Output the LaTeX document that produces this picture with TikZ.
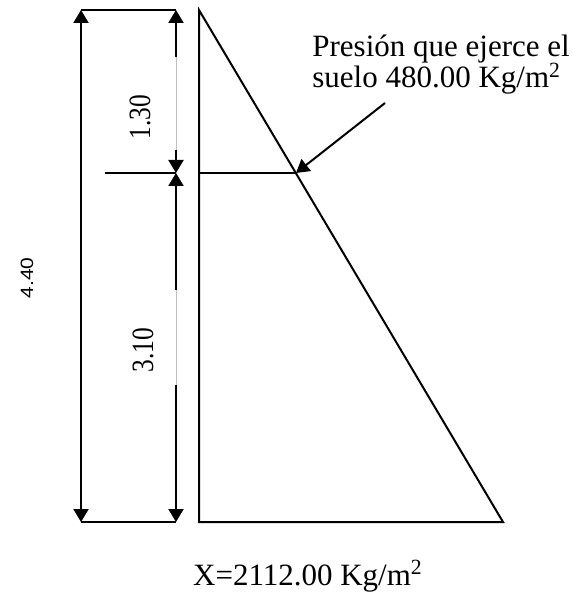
\documentclass[tikz,border=0pt]{standalone}
\usepackage{fontspec}
\setmainfont{Liberation Serif}
\newfontfamily\arialfont{Liberation Sans}
\usetikzlibrary{arrows.meta}
\tikzset{
  linea/.style={line width=1pt},
  cota/.style={line width=1pt,-{Triangle[width=7.5pt,length=6.5pt]}},
  cotados/.style={line width=1pt,{Triangle[width=7.5pt,length=6.5pt]}-{Triangle[width=7.5pt,length=6.5pt]}},
  hueco/.style={line width=0.4pt,black!25},
  texto/.style={inner sep=0pt,font=\fontsize{15.5}{15.5}\selectfont},
}
\begin{document}
\begin{tikzpicture}[x=0.5pt,y=-0.5pt]
  \useasboundingbox (0,0) rectangle (571,592);
  % triangulo de presiones del suelo
  \coordinate (A) at (199,10);
  \coordinate (B) at (199,522);
  \coordinate (C) at (503,522);
  \coordinate (M) at (199,173);
  \coordinate (P) at (296,173);
  \draw[linea,line join=miter] (A) -- (B) -- (C) -- cycle;
  \draw[linea] (M) -- (P);
  % cotas
  \foreach \n/\y in {a/10,m/173,b/522}{
    \coordinate (L\n) at (81,\y);
    \coordinate (R\n) at (176,\y);
  }
  \coordinate (Tm) at (105,173);
  \coordinate (G1) at (176,57);
  \coordinate (G2) at (176,150);
  \coordinate (G3) at (176,290);
  \coordinate (G4) at (176,385);
  \draw[cotados] (La) -- (Lb);
  \draw[linea] (La) -- (Ra);
  \draw[linea] (Lb) -- (Rb);
  \draw[linea] (Tm) -- (Rm);
  \draw[cota] (G1) -- (Ra);
  \draw[hueco] (G1) -- (G2);
  \draw[cota] (G2) -- (Rm);
  \draw[cota] (G3) -- (Rm);
  \draw[hueco] (G3) -- (G4);
  \draw[cota] (G4) -- (Rb);
  \node[texto,rotate=90] (h1) at (140,117) {\scalebox{0.82}[1]{1.30}};
  \node[texto,rotate=90] (h2) at (143,350) {\scalebox{0.82}[1]{3.10}};
  \node[inner sep=0pt,rotate=90] (h) at (27,278) {\arialfont\fontsize{10.5}{12}\selectfont\scalebox{1}[0.85]{4.40}};
  % presion en la cota 1.30
  \node[texto,anchor=base west] (t1) at (312,57) {Presión que ejerce el};
  \node[texto,anchor=base west] (t2) at (312,88) {suelo 480.00 Kg/m\textsuperscript{2}};
  \coordinate (F) at (385,103);
  \draw[cota] (F) -- (P);
  % presion en la base
  \node[texto,anchor=base] (x) at (308,585) {X=2112.00 Kg/m\textsuperscript{2}};
\end{tikzpicture}
\end{document}
